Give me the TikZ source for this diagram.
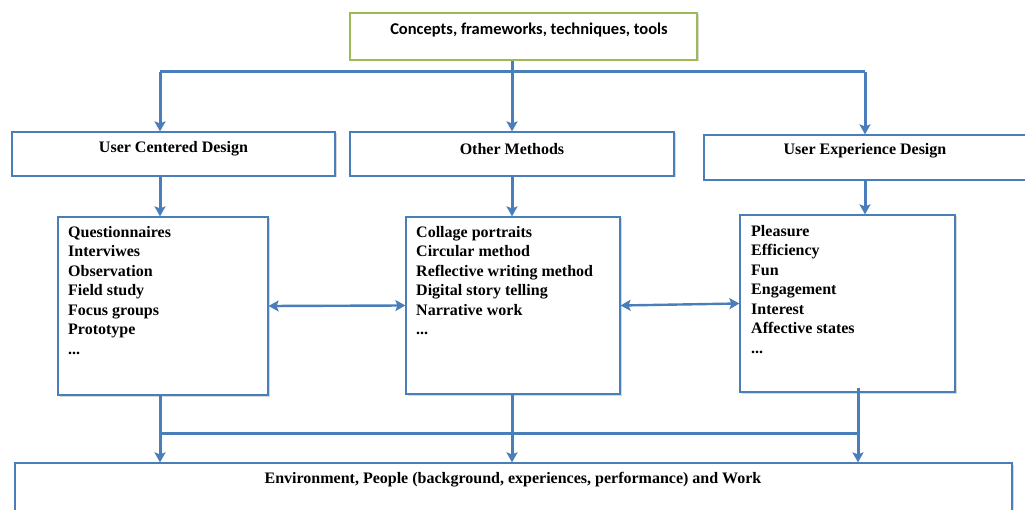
\documentclass[tikz,border=0pt]{standalone}
\usepackage{fontspec}
\setmainfont{Liberation Serif}
\newfontfamily\calibri{Carlito}
\usetikzlibrary{arrows.meta,shadows}
\definecolor{lineblue}{HTML}{4A7EBB}
\definecolor{boxgreen}{HTML}{9BBB59}
\begin{document}
\begin{tikzpicture}[x=1pt,y=-1pt,
  box/.style={draw=lineblue, line width=1.2pt, fill=white, inner sep=0pt,
    drop shadow={opacity=0.3, shadow xshift=1.5pt, shadow yshift=-1.5pt}},
  gbox/.style={box, draw=boxgreen},
  head/.style={font=\bfseries\fontsize{16}{18}\selectfont, inner sep=0pt},
  list/.style={anchor=north west, align=left, inner sep=0pt,
    font=\bfseries\fontsize{16}{19.5}\selectfont},
  conn/.style={draw=lineblue, line width=3pt},
  arr/.style={conn, -{Stealth[length=10pt,width=11pt,inset=2pt]}},
  darr/.style={conn, line width=2.4pt, {Stealth[length=10pt,width=11pt,inset=2pt]}-{Stealth[length=10pt,width=11pt,inset=2pt]}}
]
\useasboundingbox (0,0) rectangle (1025,510);

% boxes
\node[gbox, minimum width=347pt, minimum height=47pt] (top) at (523.5,36.5) {};
\node[box, minimum width=323pt, minimum height=44pt] (ucd) at (173.5,154) {};
\node[box, minimum width=324pt, minimum height=44pt] (om) at (512,154) {};
\node[box, minimum width=326pt, minimum height=45pt] (uxd) at (867,157.5) {};
\node[box, minimum width=210pt, minimum height=178pt] (l1) at (163,306) {};
\node[box, minimum width=214pt, minimum height=177pt] (l2) at (513,305.5) {};
\node[box, minimum width=215pt, minimum height=177pt] (l3) at (847.5,303.5) {};
\node[box, minimum width=997pt, minimum height=60pt] (bot) at (513.5,493) {};

% texts
\node[font=\calibri\bfseries\fontsize{16.5}{18}\selectfont, inner sep=0pt] (ttop) at (529,30) {Concepts, frameworks, techniques, tools};
\node[head] (tucd) at (173.5,149) {User Centered Design};
\node[head] (tom) at (512,149) {Other Methods};
\node[head] (tuxd) at (865,151) {User Experience Design};
\node[list] (tl1) at (68,226) {Questionnaires\\Interviwes\\Observation\\Field study\\Focus groups\\Prototype\\...};
\node[list] (tl2) at (416,226) {Collage portraits\\Circular method\\Reflective writing method\\Digital story telling\\Narrative work\\...};
\node[list] (tl3) at (751,225) {Pleasure\\Efficiency\\Fun\\Engagement\\Interest\\Affective states\\...};
\node[head] (tbot) at (513,480) {Environment, People (background, experiences, performance) and Work};

% top distribution
\coordinate (j0) at (512,72);
\coordinate (a1) at (160,72);
\coordinate (a3) at (865,72);
\draw[conn] (om.north |- top.south) -- (j0);
\draw[conn] (a1) -- (a3);
\draw[arr] (a1) -- (a1 |- ucd.north);
\draw[arr] (j0) -- (om.north);
\draw[arr] (a3) -- (a3 |- uxd.north);

% down to lists
\draw[arr] (a1 |- ucd.south) -- (a1 |- l1.north);
\draw[arr] (j0 |- om.south) -- (j0 |- l2.north);
\draw[arr] (a3 |- uxd.south) -- (a3 |- l3.north);

% horizontal double arrows
\draw[darr] (l1.east) -- (l2.west);
\draw[darr] (l2.east) -- (l3.west);

% bottom collection
\coordinate (b1) at (160,433);
\coordinate (b2) at (512,433);
\coordinate (b3) at (858,433);
\coordinate (s3) at (858,388);
\draw[arr] (b1 |- l1.south) -- (b1 |- bot.north);
\draw[arr] (b2 |- l2.south) -- (b2 |- bot.north);
\draw[arr] (s3) -- (b3 |- bot.north);
\draw[conn] (b1) -- (b3);
\end{tikzpicture}
\end{document}
